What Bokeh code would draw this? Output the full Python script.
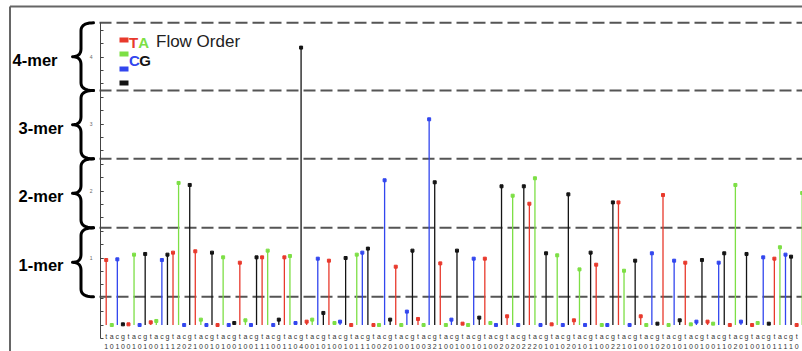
import numpy as np
from bokeh.plotting import figure
from bokeh.models import Range1d, LinearAxis, FixedTicker
from bokeh.core.properties import value
from bokeh.embed import file_html
from bokeh.resources import INLINE

# ---------------- data ----------------
FLOW_ORDER = ["t", "a", "c", "g"]
BASE_COLORS = ["#e8392c", "#7ddf45", "#3246ee", "#141414"]  # t, a, c, g

SIGNAL = [
    0.97, 0.00, 0.98, 0.01, 0.01, 1.05, 0.00, 1.06,
    0.04, 0.06, 0.97, 1.05, 1.08, 2.12, 0.00, 2.09,
    1.10, 0.08, 0.00, 1.08, 0.00, 1.01, 0.00, 0.03,
    0.93, 0.07, 0.00, 1.01, 1.01, 1.11, 0.00, 0.08,
    1.01, 1.03, 0.03, 4.14, 0.05, 0.08, 0.99, 0.18,
    0.96, 0.03, 0.05, 1.00, 0.00, 1.05, 1.08, 1.14,
    0.00, 0.00, 2.16, 0.08, 0.87, 0.00, 0.20, 1.11,
    0.09, 0.00, 3.07, 2.13, 0.92, 0.00, 0.08, 1.11,
    0.02, 0.00, 0.99, 0.11, 0.99, 0.03, 0.00, 2.07,
    0.13, 1.93, 0.00, 2.07, 1.81, 2.19, 0.00, 1.07,
    0.01, 1.04, 0.00, 1.95, 0.07, 0.83, 0.00, 1.08,
    0.90, 0.00, 0.00, 1.83, 1.83, 0.81, 0.00, 0.96,
    0.13, 0.00, 1.07, 0.02, 1.94, 0.00, 0.96, 0.07,
    0.93, 0.01, 0.05, 0.97, 0.05, 0.02, 0.93, 1.07,
    0.00, 2.09, 0.05, 1.06, 0.00, 0.03, 1.01, 0.02,
    0.99, 1.16, 1.05, 1.02, 0.00, 1.97,
]

CALLS = list(
    "10100101001112021001010010011100"
    "11040010100101110020100100321001"
    "00101002020222010102010110022101"
    "001020101001001102010010111102"
)

LEVELS = [0.42, 1.45, 2.48, 3.50, 4.51]          # dashed separators
MER_LABELS = ["1-mer", "2-mer", "3-mer", "4-mer"]
Y_TICKS = [1, 2, 3, 4]
LEGEND_TITLE = "Flow Order"

# ---------------- geometry (reference pixel mapping) ----------------
X0, DX = 105.7, 5.568      # page x of flow 0, px per flow
Z0, SY = 324.5, 67.0       # page y of signal 0, px per unit
W, H = 802, 351
PAGE_L, PAGE_T = 0, 0


def px2x(px):
    return (px - X0) / DX


def py2y(py):
    return (Z0 - py) / SY


n = len(SIGNAL)
idx = np.arange(n)
colors = [BASE_COLORS[i % 4] for i in range(n)]
letters = [FLOW_ORDER[i % 4] for i in range(n)]

p = figure(
    width=W, height=H,
    x_range=Range1d(px2x(PAGE_L), px2x(PAGE_L + W)),
    y_range=Range1d(py2y(PAGE_T + H), py2y(PAGE_T)),
    x_axis_type=None, y_axis_type=None,
    toolbar_location=None, output_backend="svg",
    min_border=0, outline_line_color=None,
)
p.background_fill_color = "white"

FONT = value("Liberation Sans")

# outer box (top and left edges)
box_l, box_t = px2x(9.5), py2y(6)
p.segment(x0=[box_l, box_l], y0=[box_t, box_t], x1=[n + 5, box_l], y1=[box_t, py2y(H + 5)],
          line_color="#666666", line_width=2)

# dashed separators
p.segment(x0=[px2x(99)] * len(LEVELS), y0=LEVELS, x1=[n + 5] * len(LEVELS), y1=LEVELS,
          line_color="#555555", line_width=2, line_dash="12 5")

# y axis placed at the left of the flows
minor = list(np.round(np.arange(-0.2, 4.5, 0.2), 2))
yaxis = LinearAxis(
    fixed_location=px2x(100),
    ticker=FixedTicker(ticks=Y_TICKS, minor_ticks=minor),
    bounds=(py2y(338), LEVELS[-1]),
    axis_line_color="#444444", axis_line_width=1,
    major_tick_in=3, major_tick_out=0, minor_tick_in=3, minor_tick_out=0,
    major_tick_line_color="#444444", minor_tick_line_color="#444444",
    major_label_text_font_size="5px", major_label_text_color="#666666",
    major_label_standoff=8,
)
p.add_layout(yaxis, "left")

# stems and markers
p.segment(x0=idx, y0=[0] * n, x1=idx, y1=SIGNAL, line_color=colors, line_width=1.3)
p.scatter(idx, SIGNAL, marker="square", size=3, color=colors)

# flow letters and calls below the baseline (only where they fit inside the page)
last = int(np.floor(px2x(PAGE_L + W - 4)))
lab_idx = idx[: last + 1]
p.text(x=lab_idx, y=[py2y(336)] * len(lab_idx), text=letters[: last + 1], text_font=FONT,
       text_font_size="7px", text_align="center", text_baseline="middle", text_color="#333333")
p.text(x=lab_idx, y=[py2y(345.5)] * len(lab_idx), text=CALLS[: last + 1], text_font=FONT,
       text_font_size="7px", text_align="center", text_baseline="middle", text_color="#333333")


# braces with mer labels
def brace_px(top, bot, xr=93.0, xm=80.5, xt=72.0, r=8.0, npts=12):
    t = np.linspace(0, 1, npts)

    def quad(p0, c, p1):
        xs = (1 - t) ** 2 * p0[0] + 2 * (1 - t) * t * c[0] + t ** 2 * p1[0]
        ys = (1 - t) ** 2 * p0[1] + 2 * (1 - t) * t * c[1] + t ** 2 * p1[1]
        return list(xs), list(ys)

    mid = (top + bot) / 2
    xs, ys = [], []
    for seg in [
        quad((xr, top), (xm, top), (xm, top + r)),
        quad((xm, mid - r), (xm, mid), (xt, mid)),
        quad((xt, mid), (xm, mid), (xm, mid + r)),
        quad((xm, bot - r), (xm, bot), (xr, bot)),
    ]:
        xs += seg[0]
        ys += seg[1]
    return xs, ys


bx, by = [], []
label_right = [63, 63, 63, 57]
for k in range(len(MER_LABELS)):
    top_px = Z0 - LEVELS[k + 1] * SY
    bot_px = Z0 - LEVELS[k] * SY
    xs, ys = brace_px(top_px, bot_px)
    bx.append([px2x(v) for v in xs])
    by.append([py2y(v) for v in ys])
    mid_px = (top_px + bot_px) / 2
    p.text(x=[px2x(label_right[k])], y=[py2y(mid_px + 3)], text=[MER_LABELS[k]],
           text_font=FONT, text_font_style="bold", text_font_size="16.5px",
           text_align="right", text_baseline="middle", text_color="black")
p.multi_line(bx, by, line_color="black", line_width=3, line_join="round", line_cap="round")

# legend: colour swatches and flow-order letters
sw_y = [39.5, 53.5, 68.5, 82.5]
p.quad(left=[px2x(119)] * 4, right=[px2x(128)] * 4,
       top=[py2y(v - 2.5) for v in sw_y], bottom=[py2y(v + 2.5) for v in sw_y],
       fill_color=BASE_COLORS, line_color=None)
leg_rows = [(0, 41.7), (2, 60.0)]
for start, base_py in leg_rows:
    x_px = 128.5
    for j in range(2):
        ch = FLOW_ORDER[start + j].upper()
        p.text(x=[px2x(x_px)], y=[py2y(base_py)], text=[ch], text_font=FONT,
               text_font_style="bold", text_font_size="15px", text_align="left",
               text_baseline="alphabetic", text_color=BASE_COLORS[start + j])
        x_px += 9.3 if ch in "T" else 10.3
p.text(x=[px2x(155.5)], y=[py2y(40.7)], text=[LEGEND_TITLE], text_font=FONT,
       text_font_size="17px", text_align="left", text_baseline="alphabetic",
       text_color="#222222")

open("out.html", "w").write(file_html(p, INLINE))
